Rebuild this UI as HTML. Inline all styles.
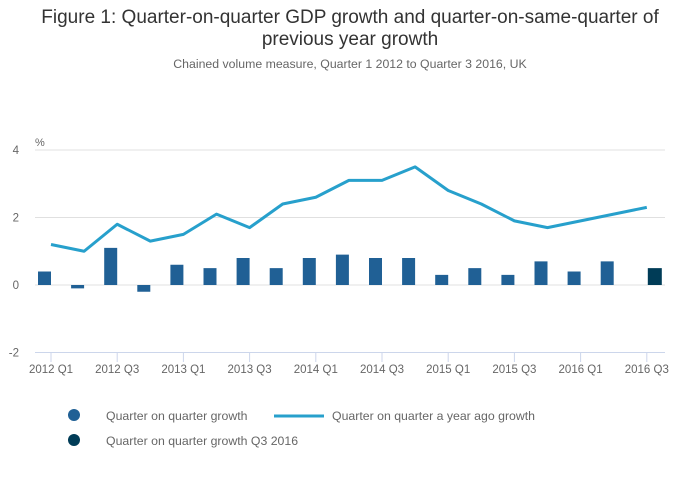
<!DOCTYPE html>
<html><head><meta charset="utf-8"><style>
body{margin:0;background:#fff;font-family:"Liberation Sans",sans-serif;}
#wrap{position:relative;width:700px;height:502px;overflow:hidden;}
.t{position:absolute;left:0;width:700px;text-align:center;color:#333;}
</style></head><body>
<div id="wrap">
<div class="t" style="top:7px;font-size:19px;line-height:22px;">Figure 1: Quarter-on-quarter GDP growth and quarter-on-same-quarter of<br>previous year growth</div>
<div class="t" style="top:57px;font-size:12.3px;color:#666;">Chained volume measure, Quarter 1 2012 to Quarter 3 2016, UK</div>
<svg id="svg" width="700" height="502" style="position:absolute;left:0;top:0"></svg>
</div>
<script>
const categories=["2012 Q1","2012 Q2","2012 Q3","2012 Q4","2013 Q1","2013 Q2","2013 Q3","2013 Q4","2014 Q1","2014 Q2","2014 Q3","2014 Q4","2015 Q1","2015 Q2","2015 Q3","2015 Q4","2016 Q1","2016 Q2","2016 Q3"];
const qoq=[0.4,-0.1,1.1,-0.2,0.6,0.5,0.8,0.5,0.8,0.9,0.8,0.8,0.3,0.5,0.3,0.7,0.4,0.7,null];
const q3_2016=[null,null,null,null,null,null,null,null,null,null,null,null,null,null,null,null,null,null,0.5];
const yoy=[1.2,1.0,1.8,1.3,1.5,2.1,1.7,2.4,2.6,3.1,3.1,3.5,2.8,2.4,1.9,1.7,1.9,2.1,2.3];
const yTicks=[4,2,0,-2];
const NS="http://www.w3.org/2000/svg";
const svg=document.getElementById('svg');
const X=i=>51+i*33.1;
const Y=v=>285-v*33.75;
function mk(tag,a,txt){const e=document.createElementNS(NS,tag);for(const k in a)e.setAttribute(k,a[k]);if(txt!=null)e.textContent=txt;svg.appendChild(e);return e;}
yTicks.forEach(t=>{
 if(t!==-2){const g=mk('line',{x1:35,x2:665,y1:Y(t),y2:Y(t),stroke:'#e0e0e0','stroke-width':1});
 
 }
 const l=mk('text',{x:19,y:Y(t)+4,'font-size':11.5,fill:'#666','text-anchor':'end'},String(t));
 
 
});
const pu=mk('text',{x:35,y:146,'font-size':11,fill:'#666'},'%');


const ax=mk('line',{x1:35,x2:665,y1:352.5,y2:352.5,stroke:'#ccd6eb','stroke-width':1});


categories.forEach((c,i)=>{
 if(i%2)return;
 const tk=mk('line',{x1:X(i),x2:X(i),y1:352,y2:362,stroke:'#ccd6eb'});
 
 
 const l=mk('text',{x:X(i),y:373,'font-size':11.5,fill:'#666','text-anchor':'middle'},c);
 
 
});
qoq.forEach((v,i)=>{
 if(v==null)return;
 const b=mk('rect',{x:X(i)-13,y:Math.min(Y(v),Y(0)),width:13,height:Math.abs(Y(v)-Y(0)),fill:'#206095'});
 
 
});
q3_2016.forEach((v,i)=>{
 if(v==null)return;
 const b=mk('rect',{x:X(i)+1,y:Math.min(Y(v),Y(0)),width:14,height:Math.abs(Y(v)-Y(0)),fill:'#003c57'});
 
 
});
const ln=mk('polyline',{points:yoy.map((v,i)=>X(i)+','+Y(v)).join(' '),fill:'none',stroke:'#27a0cc','stroke-width':3,'stroke-linejoin':'round'});


const c1=mk('circle',{cx:74,cy:415,r:6,fill:'#206095'});


const t1=mk('text',{x:106,y:420,'font-size':12.3,fill:'#666'},'Quarter on quarter growth');


const l2=mk('line',{x1:274,x2:324,y1:416,y2:416,stroke:'#27a0cc','stroke-width':3});


const t2=mk('text',{x:332,y:420,'font-size':12.3,fill:'#666'},'Quarter on quarter a year ago growth');


const c3=mk('circle',{cx:74,cy:440,r:6,fill:'#003c57'});


const t3=mk('text',{x:106,y:445,'font-size':12.3,fill:'#666'},'Quarter on quarter growth Q3 2016');


</script>
</body></html>
